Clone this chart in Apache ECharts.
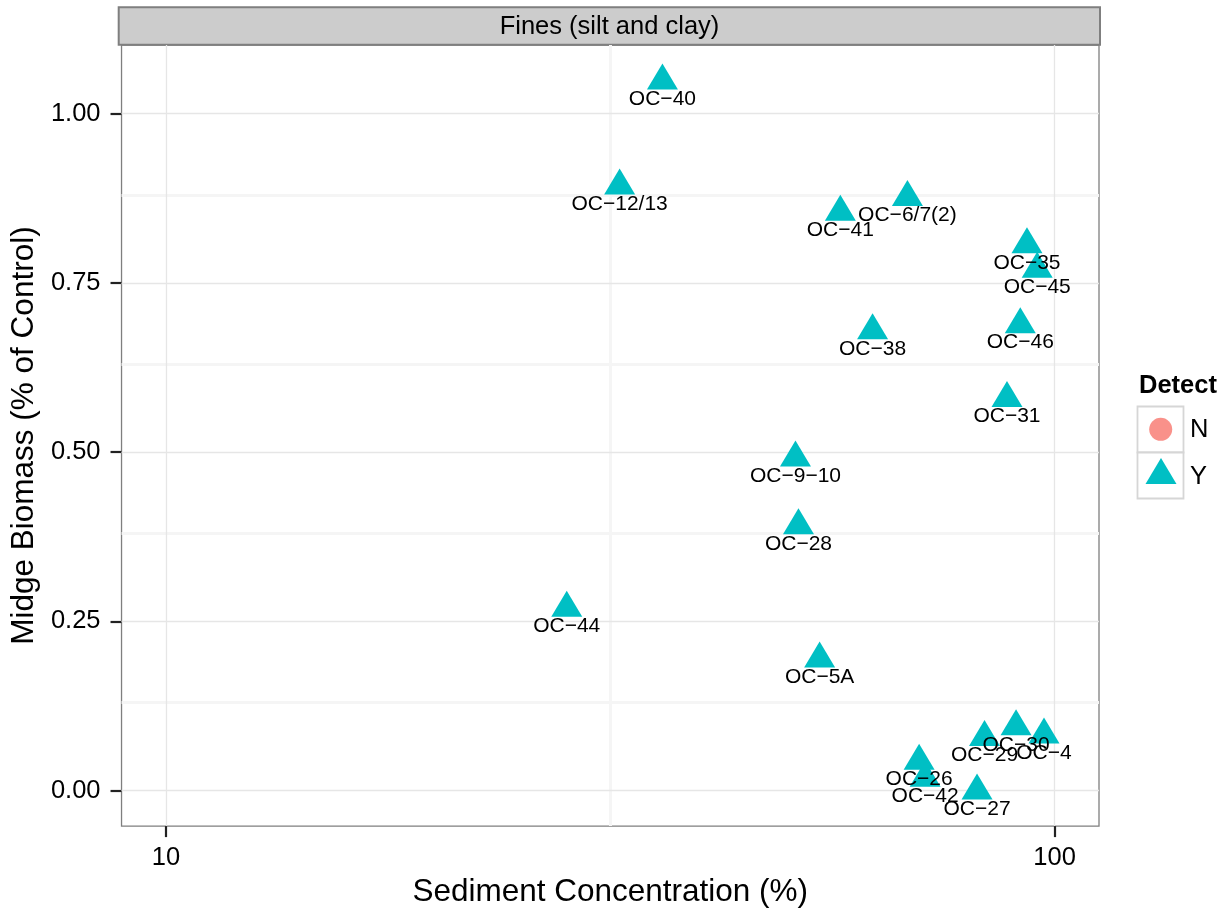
<!DOCTYPE html>
<html><head><meta charset="utf-8">
<script src="https://cdn.jsdelivr.net/npm/echarts@6/dist/echarts.min.js"></script>
<style>html,body{margin:0;padding:0;background:#fff}#c{width:1224px;height:913px}</style>
</head><body><div id="c"></div>
<script>
// ---- data ----
const sites = ['OC−40','OC−12/13','OC−41','OC−6/7(2)','OC−35','OC−45','OC−46','OC−31','OC−38','OC−9−10','OC−28','OC−44','OC−5A','OC−29','OC−30','OC−4','OC−26','OC−42','OC−27'];
const sediment = [36.2, 32.4, 57.4, 68.3, 93.1, 95.6, 91.5, 88.4, 62.4, 51.1, 51.5, 28.25, 54.4, 83.4, 90.5, 97.3, 70.4, 71.5, 81.8];
const biomass = [1.049, 0.894, 0.855, 0.877, 0.807, 0.771, 0.689, 0.580, 0.680, 0.492, 0.392, 0.270, 0.195, 0.079, 0.095, 0.083, 0.044, 0.019, 0.0];
const detectGroups = ['N', 'Y'];
const xLimits = [10, 100];
const xTicks = [10, 100];
const xMinor = [31.6227766];
const yTicks = [0, 0.25, 0.5, 0.75, 1.0];
const yMinor = [0.125, 0.375, 0.625, 0.875];
const stripTitle = 'Fines (silt and clay)';
const xTitle = 'Sediment Concentration (%)';
const yTitle = 'Midge Biomass (% of Control)';
const legendTitle = 'Detect';

// ---- scales (ggplot-style 5% expansion) ----
const lx0 = Math.log10(xLimits[0]), lx1 = Math.log10(xLimits[1]);
const xMin = lx0 - 0.05 * (lx1 - lx0), xMax = lx1 + 0.05 * (lx1 - lx0);
const yLo = Math.min(...biomass), yHi = Math.max(...biomass);
const yMin = yLo - 0.05 * (yHi - yLo), yMax = yHi + 0.05 * (yHi - yLo);

const GRID_H = 783, TICK_PX = 11;
const FONT = '"Liberation Sans", Arial, Helvetica, sans-serif';
const majorStyle = {color: '#E6E6E6', width: 1.3, type: 'solid'};
const minorStyle = {color: '#F5F5F5', width: 3, type: 'solid'};
const gridLines = [].concat(
  xMinor.map(v => ({xAxis: Math.log10(v), lineStyle: minorStyle})),
  yMinor.map(v => ({yAxis: v, lineStyle: minorStyle})),
  xTicks.map(v => ({xAxis: Math.log10(v), lineStyle: majorStyle})),
  yTicks.map(v => ({yAxis: v, lineStyle: majorStyle}))
);

const chart = echarts.init(document.getElementById('c'), null, {renderer: 'canvas'});
chart.setOption({
  animation: false,
  textStyle: {fontFamily: FONT},
  grid: {left: 120, top: 45, width: 979, height: GRID_H, show: true, borderColor: '#7F7F7F', borderWidth: 1.3, backgroundColor: 'transparent', containLabel: false},
  xAxis: {
    type: 'value', min: xMin, max: xMax, position: 'bottom',
    splitLine: {show: false},
    axisLine: {show: false, onZero: false},
    axisTick: {show: true, inside: false, customValues: xTicks.map(v => Math.log10(v)), length: TICK_PX, lineStyle: {color: '#222', width: 2.2}},
    axisLabel: {customValues: xTicks.map(v => Math.log10(v)), formatter: v => String(Math.round(Math.pow(10, v))), fontSize: 25.5, color: '#000', margin: 19, fontFamily: FONT},
    name: xTitle, nameLocation: 'middle', nameGap: 44,
    nameTextStyle: {fontSize: 31.5, color: '#000', fontFamily: FONT}
  },
  yAxis: {
    type: 'value', min: yMin, max: yMax,
    splitLine: {show: false}, axisLine: {show: false, onZero: false},
    axisTick: {show: true, customValues: yTicks, length: TICK_PX, lineStyle: {color: '#222', width: 2.2}},
    axisLabel: {customValues: yTicks, formatter: v => v.toFixed(2), fontSize: 25.5, color: '#000', margin: 21, fontFamily: FONT},
    name: yTitle, nameLocation: 'middle', nameGap: 73,
    nameTextStyle: {fontSize: 31.5, color: '#000', fontFamily: FONT}
  },
  legend: [
    {data: [detectGroups[0]], left: 1149.2, top: 417.8, padding: 0, itemWidth: 23, itemHeight: 23, selectedMode: false,
     formatter: () => '', textStyle: {fontSize: 1}},
    {data: [detectGroups[1]], left: 1145.5, top: 458, padding: 0, itemWidth: 31, itemHeight: 26, selectedMode: false,
     formatter: () => '', textStyle: {fontSize: 1}}
  ],
  graphic: [
    {type: 'rect', z: 0, shape: {x: 118.7, y: 7.2, width: 981.3, height: 37.5}, style: {fill: '#CCCCCC', stroke: '#7F7F7F', lineWidth: 2}},
    {type: 'text', z: 1, x: 609.5, y: 26.7, style: {text: stripTitle, fontSize: 25.5, fontFamily: FONT, fill: '#000', align: 'center', verticalAlign: 'middle'}},
    {type: 'text', z: 1, x: 1139, y: 385.5, style: {text: legendTitle, fontSize: 25.5, fontWeight: 'bold', fontFamily: FONT, fill: '#000', align: 'left', verticalAlign: 'middle'}},
    {type: 'rect', z: 0, shape: {x: 1137.5, y: 406.5, width: 46, height: 46}, style: {fill: '#fff', stroke: '#D6D6D6', lineWidth: 1.8}},
    {type: 'rect', z: 0, shape: {x: 1137.5, y: 452.5, width: 46, height: 46}, style: {fill: '#fff', stroke: '#D6D6D6', lineWidth: 1.8}},
    {type: 'text', z: 1, x: 1190, y: 430, style: {text: detectGroups[0], fontSize: 25.5, fontFamily: FONT, fill: '#000', align: 'left', verticalAlign: 'middle'}},
    {type: 'text', z: 1, x: 1190, y: 477, style: {text: detectGroups[1], fontSize: 25.5, fontFamily: FONT, fill: '#000', align: 'left', verticalAlign: 'middle'}}
  ],
  series: [
    {name: detectGroups[0], type: 'scatter', data: [], symbol: 'circle', itemStyle: {color: '#F8766D'}},
    {
      name: detectGroups[1], type: 'scatter', z: 3,
      symbol: 'triangle', symbolSize: [31, 26], symbolOffset: [0, -4],
      itemStyle: {color: '#00BFC4', opacity: 1},
      emphasis: {disabled: true},
      label: {show: true, formatter: '{b}', position: [15.5, 35.5], align: 'center', verticalAlign: 'middle', fontSize: 21, color: '#000', fontFamily: FONT, textBorderWidth: 0, textBorderColor: 'transparent'},
      data: sites.map((s, i) => ({name: s, value: [Math.log10(sediment[i]), biomass[i]]})),
      markLine: {z: 1, silent: true, symbol: ['none', 'none'], label: {show: false}, animation: false, emphasis: {disabled: true}, data: gridLines}
    }
  ]
});
</script>
</body></html>
